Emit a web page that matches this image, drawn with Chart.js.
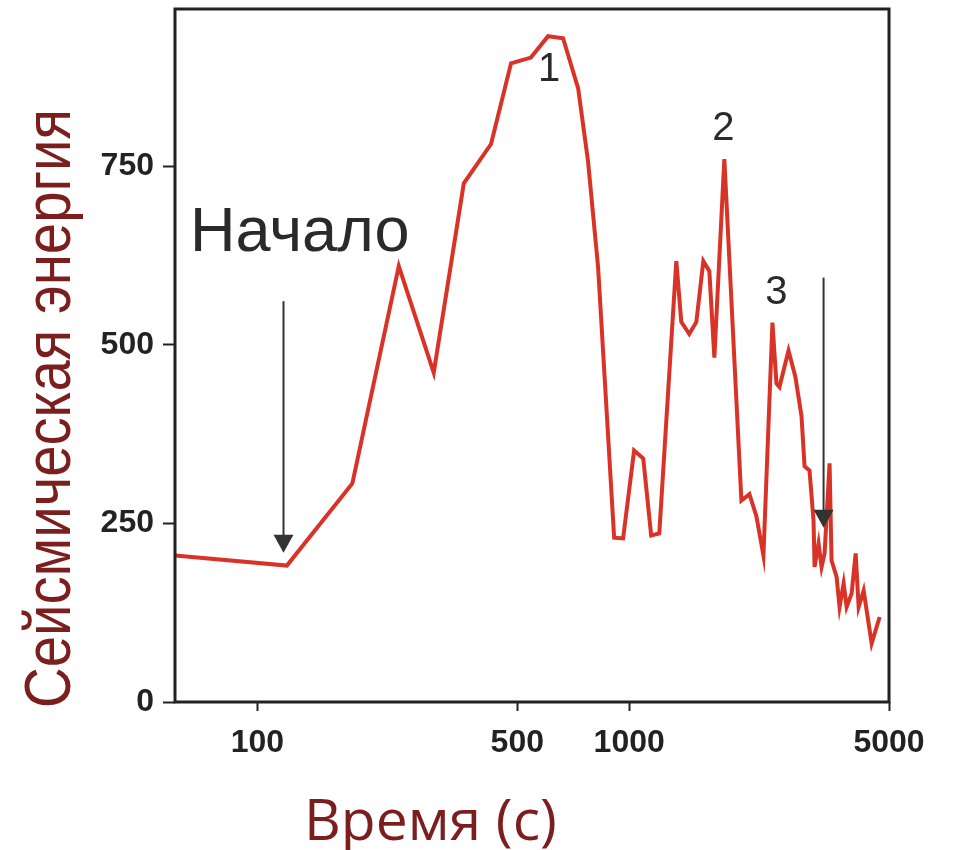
<!DOCTYPE html>
<html><head><meta charset="utf-8">
<script src="https://cdn.jsdelivr.net/npm/chart.js@4"></script>
<style>html,body{margin:0;padding:0;background:#fff}#wrap{width:957px;height:850px}</style>
</head><body><div id="wrap"><canvas id="c" width="957" height="850"></canvas></div>
<script>
// Time (s), log scale
const timeSec = [60, 120, 180, 240, 298, 359, 425, 481, 544, 605, 664, 729, 775, 825, 911, 963, 1031, 1091, 1146, 1205, 1339, 1381, 1451, 1516, 1583, 1643, 1695, 1803, 2004, 2106, 2199, 2297, 2429, 2490, 2537, 2683, 2800, 2908, 2963, 3056, 3133, 3153, 3232, 3293, 3355, 3460, 3503, 3614, 3681, 3775, 3846, 3967, 4067, 4143, 4273, 4490, 4719];
// Seismic energy
const energy = [205, 191, 306, 610, 461, 726, 781, 894, 902, 932, 929, 859, 757, 608, 230, 229, 352, 341, 233, 236, 617, 532, 515, 532, 617, 603, 482, 760, 282, 291, 260, 205, 531, 446, 441, 492, 455, 400, 330, 324, 254, 189, 222, 189, 208, 334, 198, 175, 133, 166, 133, 152, 208, 133, 156, 82, 119];
const xTickValues = [100, 500, 1000, 5000];
const yTickValues = [0, 250, 500, 750];
const xTitle = 'Время (с)';
const yTitle = 'Сейсмическая энергия';
// annotation labels (data coordinates)
const labelTexts = ['Начало', '1', '2', '3'];
const labelX = [130, 609, 1792, 2490];
const labelY = [656, 885, 802, 573];
// arrows: x, from value, to value
const arrowX = [117.5, 3334];
const arrowFrom = [561, 594];
const arrowTo = [209, 244];

const points = timeSec.map((t, i) => ({x: t, y: energy[i]}));

const extras = {
  id: 'extras',
  afterDraw(chart) {
    const {ctx, chartArea: a, scales: {x, y}} = chart;
    ctx.save();
    // frame
    ctx.strokeStyle = '#222';
    ctx.lineWidth = 3;
    ctx.strokeRect(a.left, a.top, a.right - a.left, a.bottom - a.top);
    // labels
    ctx.fillStyle = '#2a2a2a';
    ctx.textAlign = 'center';
    ctx.textBaseline = 'middle';
    labelTexts.forEach((t, i) => {
      ctx.font = i === 0 ? '63px "Liberation Sans", Arial, sans-serif' : '40px "Liberation Sans", Arial, sans-serif';
      ctx.fillText(t, x.getPixelForValue(labelX[i]), y.getPixelForValue(labelY[i]));
    });
    // arrows
    ctx.strokeStyle = '#333';
    ctx.fillStyle = '#333';
    ctx.lineWidth = 2;
    arrowX.forEach((v, i) => {
      const px = x.getPixelForValue(v);
      const y0 = y.getPixelForValue(arrowFrom[i]);
      const y1 = y.getPixelForValue(arrowTo[i]);
      ctx.beginPath();
      ctx.moveTo(px, y0);
      ctx.lineTo(px, y1 - 14);
      ctx.stroke();
      ctx.beginPath();
      ctx.moveTo(px - 10, y1 - 18);
      ctx.lineTo(px + 10, y1 - 18);
      ctx.lineTo(px, y1);
      ctx.closePath();
      ctx.fill();
    });
    // x title
    ctx.fillStyle = '#7a1e1e';
    ctx.font = '57px "Open Sans", "Noto Sans", sans-serif';
    ctx.textAlign = 'left';
    ctx.textBaseline = 'alphabetic';
    ctx.fillText(xTitle, a.left + 129, a.bottom + 138);
    // y title (rotated)
    ctx.save();
    ctx.translate(a.left - 105, a.bottom + 6);
    ctx.rotate(-Math.PI / 2);
    ctx.scale(0.88, 1);
    ctx.font = '64px "Liberation Sans", Arial, sans-serif';
    ctx.fillText(yTitle, 0, 0);
    ctx.restore();
    ctx.restore();
  }
};

const tickFont = {family: '"Liberation Sans", Arial, sans-serif', size: 32, weight: 'bold'};

new Chart(document.getElementById('c'), {
  type: 'line',
  data: {
    datasets: [{
      data: points,
      borderColor: '#d93327',
      borderWidth: 4,
      pointRadius: 0,
      tension: 0,
      fill: false
    }]
  },
  options: {
    responsive: false,
    animation: false,
    events: [],
    layout: {padding: {top: 9, right: 68, left: 0, bottom: 0}},
    plugins: {legend: {display: false}, tooltip: {enabled: false}},
    scales: {
      x: {
        type: 'logarithmic',
        min: 60, max: 5000,
        afterBuildTicks: s => { s.ticks = xTickValues.map(v => ({value: v})); },
        afterFit: s => { s.height = 148; s.paddingLeft = 0; s.paddingRight = 0; },
        border: {display: false},
        grid: {drawOnChartArea: false, drawTicks: true, tickLength: 9, tickColor: '#222', tickWidth: 2},
        ticks: {
          autoSkip: false, maxRotation: 0, padding: 13,
          color: '#222',
          font: tickFont,
          callback: v => String(v)
        }
      },
      y: {
        type: 'linear',
        min: 0, max: 970,
        afterBuildTicks: s => { s.ticks = yTickValues.map(v => ({value: v})); },
        afterFit: s => { s.width = 175; s.paddingTop = 0; s.paddingBottom = 0; },
        border: {display: false},
        grid: {drawOnChartArea: false, drawTicks: true, tickLength: 12, tickColor: '#222', tickWidth: 2},
        ticks: {
          padding: 9,
          color: '#222',
          font: tickFont,
          callback: v => String(v)
        }
      }
    }
  },
  plugins: [extras]
});
</script>
</body></html>
